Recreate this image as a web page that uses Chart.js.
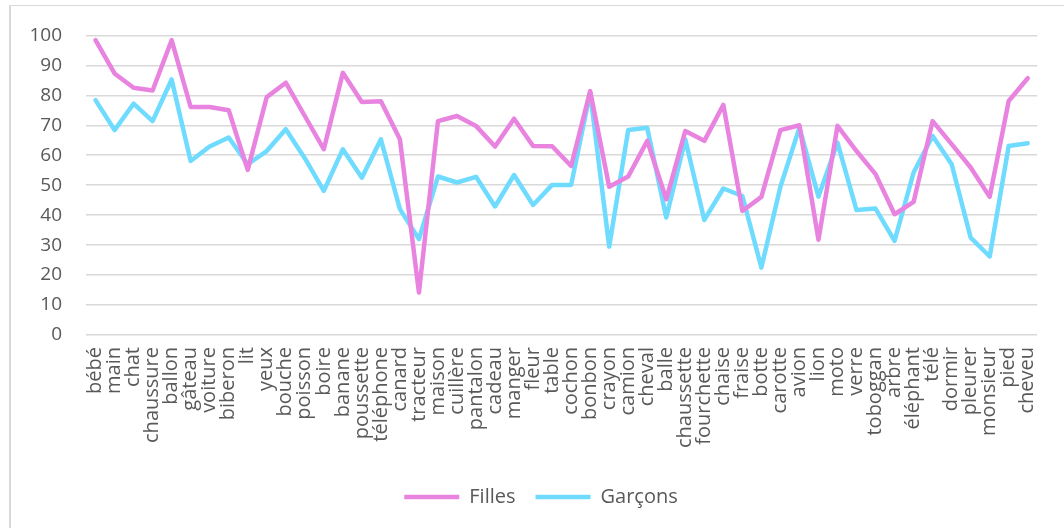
<!DOCTYPE html>
<html>
<head>
<meta charset="utf-8">
<script src="https://cdn.jsdelivr.net/npm/chart.js@4/dist/chart.umd.min.js"></script>
<style>
    html, body { margin: 0; padding: 0; background: #fff; }
    #wrap { position: relative; width: 1064px; height: 528px; overflow: hidden; }
    #frame {
        position: absolute; left: 9px; top: 5px; width: 1100px; height: 600px;
        border-top: 1px solid #d9d9d9; border-left: 2px solid #d9d9d9;
    }
    canvas { position: absolute; left: 0; top: 0; }
</style>
</head>
<body>
<div id="wrap">
    <div id="frame"></div>
    <canvas id="wordChart" width="1064" height="528"></canvas>
</div>
<script>
const words = [
    'bébé', 'main', 'chat', 'chaussure', 'ballon', 'gâteau', 'voiture', 'biberon', 'lit', 'yeux',
    'bouche', 'poisson', 'boire', 'banane', 'poussette', 'téléphone', 'canard', 'tracteur', 'maison', 'cuillère',
    'pantalon', 'cadeau', 'manger', 'fleur', 'table', 'cochon', 'bonbon', 'crayon', 'camion', 'cheval',
    'balle', 'chaussette', 'fourchette', 'chaise', 'fraise', 'botte', 'carotte', 'avion', 'lion', 'moto',
    'verre', 'toboggan', 'arbre', 'éléphant', 'télé', 'dormir', 'pleurer', 'monsieur', 'pied', 'cheveu'
];

const filles = [
    98.4, 87.3, 82.5, 81.6, 98.4, 76.1, 76.1, 75, 55.1, 79.4,
    84.2, 73.1, 62, 87.5, 77.8, 78, 65.3, 14.2, 71.4, 73.1,
    69.8, 62.9, 72.2, 63.1, 63, 56.4, 81.4, 49.5, 52.9, 64.8,
    45.3, 68.1, 64.8, 76.8, 41.4, 46.1, 68.4, 70, 31.8, 69.8,
    61.4, 53.7, 40.3, 44.4, 71.4, 63.7, 55.9, 46.1, 78.1, 85.7
];

const garcons = [
    78.4, 68.4, 77.2, 71.4, 85.3, 58.1, 62.9, 65.9, 57, 61.4,
    68.7, 59, 48.1, 62, 52.5, 65.3, 42, 32, 52.9, 50.9,
    52.8, 42.9, 53.4, 43.4, 50.1, 50.1, 80.9, 29.5, 68.4, 69.2,
    39.2, 65.3, 38.4, 48.9, 46.4, 22.5, 49.5, 69.2, 46.2, 64.2,
    41.7, 42.2, 31.4, 54.2, 66.4, 57, 32.5, 26.2, 63.1, 64
];

const yTicks = [0, 10, 20, 30, 40, 50, 60, 70, 80, 90, 100];

const pink = '#e883e0';
const blue = '#6fdbff';
const textColor = '#595959';
const gridColor = '#d9d9d9';

Chart.defaults.font.family = '"Open Sans", "Noto Sans", sans-serif';
Chart.defaults.color = textColor;

// nudge the legend to the right so it sits where the reference has it
const legendShift = {
    id: 'legendShift',
    afterLayout(chart) {
        chart.legend.left += 22;
        chart.legend.right += 22;
    }
};

const ctx = document.getElementById('wordChart').getContext('2d');
new Chart(ctx, {
    type: 'line',
    data: {
        labels: words,
        datasets: [{
            label: 'Filles',
            data: filles,
            borderColor: pink,
            backgroundColor: pink,
            borderWidth: 4.5,
            borderCapStyle: 'round',
            borderJoinStyle: 'round',
            pointRadius: 0,
            tension: 0
        }, {
            label: 'Garçons',
            data: garcons,
            borderColor: blue,
            backgroundColor: blue,
            borderWidth: 4.5,
            borderCapStyle: 'round',
            borderJoinStyle: 'round',
            pointRadius: 0,
            tension: 0
        }]
    },
    options: {
        responsive: false,
        animation: false,
        layout: {
            padding: { top: 34, right: 26, bottom: 11, left: 0 }
        },
        scales: {
            x: {
                offset: true,
                grid: { display: false, drawTicks: false },
                border: { display: false },
                ticks: {
                    autoSkip: false,
                    maxRotation: 90,
                    minRotation: 90,
                    padding: 12,
                    font: { size: 20 },
                    color: textColor
                },
                afterFit: (scale) => { scale.height = 132; }
            },
            y: {
                min: 0,
                max: 100,
                afterBuildTicks: (scale) => { scale.ticks = yTicks.map(v => ({ value: v })); },
                grid: { color: gridColor, lineWidth: 1.5, drawTicks: false },
                border: { display: false },
                ticks: {
                    padding: 24,
                    font: { size: 19 },
                    color: textColor
                },
                afterFit: (scale) => { scale.width = 86; }
            }
        },
        plugins: {
            legend: {
                position: 'bottom',
                labels: {
                    usePointStyle: true,
                    pointStyle: 'line',
                    pointStyleWidth: 55,
                    padding: 20,
                    font: { size: 20 },
                    color: textColor
                }
            },
            tooltip: { enabled: false }
        }
    },
    plugins: [legendShift]
});
</script>
</body>
</html>
